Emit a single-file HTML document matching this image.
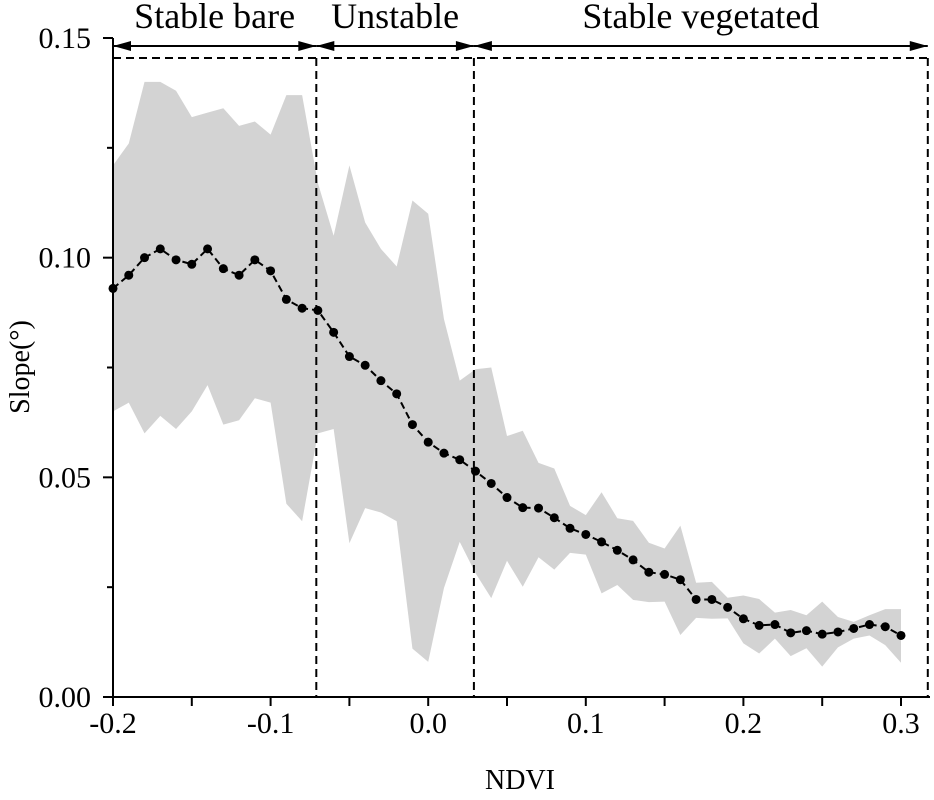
<!DOCTYPE html>
<html><head><meta charset="utf-8"><style>
body{margin:0;background:#fff}
svg text{font-family:"Liberation Serif",serif;fill:#000}
</style></head><body>
<svg id="chart" width="934" height="795">
<g id="band"></g>
<g id="axes"></g>
<g id="line"></g>
</svg>
<script>
const ndvi = [];
for (let i = 0; i <= 50; i++) ndvi.push(+(-0.2 + i * 0.01).toFixed(2));
const meanSlope = [0.093,0.096,0.100,0.102,0.0995,0.0985,0.102,0.0975,0.096,0.0995,0.097,0.0905,0.0885,0.088,0.083,0.0775,0.0755,0.072,0.069,0.062,0.058,0.0555,0.054,0.0514,0.0486,0.0454,0.0431,0.0430,0.0408,0.0384,0.0370,0.0353,0.0334,0.0312,0.0284,0.0279,0.0267,0.0222,0.0222,0.0204,0.0178,0.0163,0.0165,0.0146,0.0151,0.0143,0.0148,0.0156,0.0165,0.0160,0.0140];
const upperSlope = [0.121,0.126,0.140,0.140,0.138,0.132,0.133,0.134,0.130,0.131,0.128,0.137,0.137,0.117,0.105,0.121,0.108,0.102,0.098,0.113,0.110,0.086,0.072,0.0746,0.075,0.0594,0.0606,0.0533,0.0520,0.0435,0.0414,0.0466,0.0407,0.0401,0.0351,0.0338,0.0390,0.0260,0.0262,0.0226,0.0231,0.0223,0.0192,0.0198,0.0186,0.0217,0.0182,0.0171,0.0186,0.0200,0.0200];
const lowerSlope = [0.065,0.067,0.060,0.064,0.061,0.065,0.071,0.062,0.063,0.068,0.067,0.044,0.040,0.060,0.061,0.035,0.043,0.042,0.040,0.011,0.008,0.0248,0.0353,0.0282,0.0225,0.0310,0.0251,0.0318,0.0290,0.0328,0.0324,0.0236,0.0255,0.0221,0.0216,0.0217,0.0141,0.0180,0.0178,0.0179,0.0122,0.0099,0.0133,0.0093,0.0111,0.0069,0.0113,0.0133,0.0140,0.0118,0.0078];
const xTickLabels = ["-0.2","-0.1","0.0","0.1","0.2","0.3"];
const yTickLabels = ["0.00","0.05","0.10","0.15"];
const regionBounds = [-0.2, -0.071, 0.029, 0.317];
const regionNames = ["Stable bare","Unstable","Stable vegetated"];

const NS="http://www.w3.org/2000/svg";
const X = v => 113 + (v + 0.2) / 0.5 * 788;
const Y = v => 697 - v / 0.15 * 659;
function mk(tag, attrs, parent){const e=document.createElementNS(NS,tag);for(const k in attrs)e.setAttribute(k,attrs[k]);parent.appendChild(e);return e;}
const band=document.getElementById('band'), axes=document.getElementById('axes'), line=document.getElementById('line');

let d = ndvi.map((x,i)=>(i?'L':'M')+X(x)+','+Y(upperSlope[i])).join('');
for(let i=ndvi.length-1;i>=0;i--) d+='L'+X(ndvi[i])+','+Y(lowerSlope[i]);
const bp=mk('path',{d:d+'Z',fill:'#d3d3d3'},band);



const ya=mk('line',{x1:113,y1:Y(0.15),x2:113,y2:698,stroke:'#000','stroke-width':2},axes);


const xa=mk('line',{x1:112,y1:697,x2:930,y2:697,stroke:'#000','stroke-width':2},axes);


yTickLabels.forEach(t=>{const v=parseFloat(t);
  mk('line',{x1:103,y1:Y(v),x2:113,y2:Y(v),stroke:'#000','stroke-width':2},axes);
  const tx=mk('text',{x:91,y:Y(v)+10,'text-anchor':'end','font-size':30},axes);tx.textContent=t;
  
  
});
[0.025,0.075,0.125].forEach(v=>mk('line',{x1:107,y1:Y(v),x2:113,y2:Y(v),stroke:'#000','stroke-width':2},axes));
for(let v=-0.2;v<=0.3001;v+=0.05) mk('line',{x1:X(v),y1:697,x2:X(v),y2:706,stroke:'#000','stroke-width':2},axes);
xTickLabels.forEach(t=>{const v=parseFloat(t);
  const tx=mk('text',{x:X(v),y:733,'text-anchor':'middle','font-size':30},axes);tx.textContent=t;
  
  
});
const xt=mk('text',{x:520,y:789,'text-anchor':'middle','font-size':28},axes);xt.textContent='NDVI';


const yt=mk('text',{x:0,y:0,'text-anchor':'middle','font-size':28,transform:'translate(29,367) rotate(-90)'},axes);yt.textContent='Slope(°)';



const hd=mk('line',{x1:113,y1:58,x2:930,y2:58,stroke:'#000','stroke-width':2,'stroke-dasharray':'8,5'},axes);


regionBounds.slice(1).forEach(b=>{
  const l=mk('line',{x1:X(b),y1:58,x2:X(b),y2:697,stroke:'#000','stroke-width':2,'stroke-dasharray':'8,5'},axes);
  
  
});
regionNames.forEach((n,i)=>{
  const a=X(regionBounds[i]), b=X(regionBounds[i+1]), y=46;
  mk('line',{x1:a,y1:y,x2:b,y2:y,stroke:'#000','stroke-width':2},axes);
  mk('path',{d:`M${a},${y}L${a+18},${y-5}L${a+18},${y+5}Z`,fill:'#000'},axes);
  mk('path',{d:`M${b},${y}L${b-18},${y-5}L${b-18},${y+5}Z`,fill:'#000'},axes);
  const tx=mk('text',{x:(a+b)/2,y:28,'text-anchor':'middle','font-size':36},axes);tx.textContent=n;
  
  
});

const ml=mk('polyline',{points:ndvi.map((x,i)=>X(x)+','+Y(meanSlope[i])).join(' '),fill:'none',stroke:'#000','stroke-width':2,'stroke-dasharray':'7,4'},line);


ndvi.forEach((x,i)=>{
  const c=mk('circle',{cx:X(x),cy:Y(meanSlope[i]),r:4.5,fill:'#000'},line);
  
  
});
</script>
</body></html>
